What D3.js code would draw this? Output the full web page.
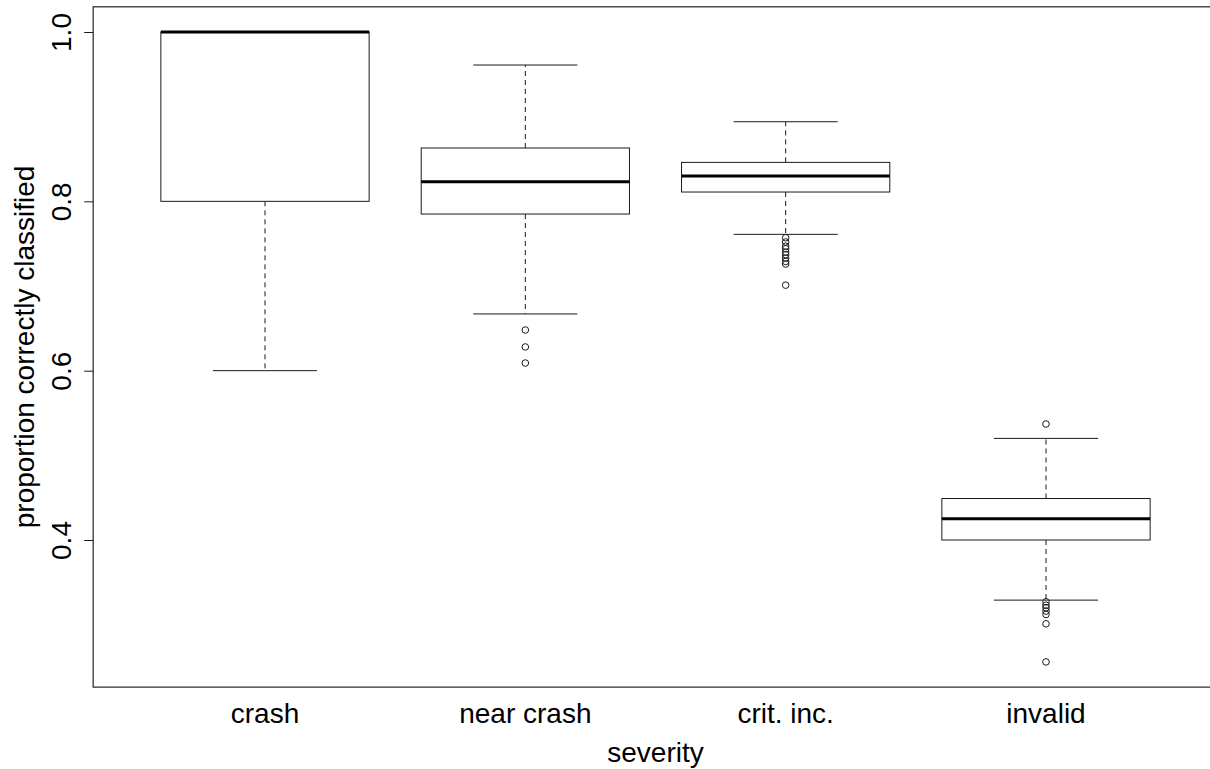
<!DOCTYPE html>
<html>
<head>
<meta charset="utf-8">
<script src="https://cdn.jsdelivr.net/npm/d3@7"></script>
<style>
  body { margin: 0; background: #fff; }
  svg { display: block; font-family: "Liberation Sans", Arial, sans-serif; }
</style>
</head>
<body>
<div id="chart"></div>
<script>
// box statistics
const categories = ['crash', 'near crash', 'crit. inc.', 'invalid'];
const whiskerLow = [0.600, 0.667, 0.761, 0.329];
const quart1     = [0.800, 0.785, 0.811, 0.400];
const medians    = [1.000, 0.823, 0.830, 0.425];
const quart3     = [1.000, 0.863, 0.846, 0.449];
const whiskerHigh = [1.000, 0.961, 0.894, 0.520];
// outliers for each category
const outliers = [
    [],
    [0.648, 0.628, 0.609],
    [0.757, 0.752, 0.747, 0.744, 0.740, 0.737, 0.733, 0.729, 0.726, 0.701],
    [0.537, 0.327, 0.323, 0.320, 0.316, 0.312, 0.301, 0.256]
];
const yTicks = [0.4, 0.6, 0.8, 1.0];

const width = 1210, height = 769;
const fontSize = 28;

let svg = d3.select('#chart').append('svg')
    .attr('width', width)
    .attr('height', height);

// x positions: category index 1..4
let x = d3.scaleLinear().domain([1, 4]).range([265, 1046]);
let y = d3.scaleLinear().domain([0.4, 1.0]).range([540, 32]);

// R style 4% padding around the data
let allVals = whiskerLow.concat(whiskerHigh, outliers.flat());
let yMin = d3.min(allVals), yMax = d3.max(allVals);
let yPad = (yMax - yMin) * 0.04;
let xLo = 0.5 - 0.16, xHi = categories.length + 0.5 + 0.16;

const boxHalf = 0.4 * (x(2) - x(1));
const capHalf = boxHalf / 2;
const lineCol = '#1a1a1a';

// y axis
let yAxis = d3.axisLeft(y)
    .tickValues(yTicks)
    .tickFormat(d3.format('.1f'))
    .tickSize(9)
    .tickPadding(0);

let yg = svg.append('g')
    .attr('transform', `translate(${x(xLo)},0)`)
    .call(yAxis);
yg.select('.domain').remove();
yg.selectAll('.tick line').attr('stroke', lineCol);
yg.selectAll('.tick text')
    .attr('font-size', fontSize)
    .attr('fill', '#000')
    .attr('text-anchor', 'middle')
    .attr('dy', 0)
    .attr('x', 0)
    .attr('transform', 'translate(-22,0) rotate(-90)');

// category labels (no tick marks)
svg.selectAll('.xlab')
    .data(categories)
    .enter().append('text')
    .attr('class', 'xlab')
    .attr('x', (d, i) => x(i + 1))
    .attr('y', 723)
    .attr('text-anchor', 'middle')
    .attr('font-size', fontSize)
    .text(d => d);

// axis titles
svg.append('text')
    .attr('x', x(2.5))
    .attr('y', 762)
    .attr('text-anchor', 'middle')
    .attr('font-size', fontSize)
    .text('severity');

svg.append('text')
    .attr('transform', `translate(34,${y(0.628)}) rotate(-90)`)
    .attr('text-anchor', 'middle')
    .attr('font-size', fontSize)
    .text('proportion correctly classified');

// one group per box
let box = svg.selectAll('.box')
    .data(categories)
    .enter().append('g')
    .attr('class', 'box');

// dashed whiskers
box.append('line')
    .attr('x1', (d, i) => x(i + 1)).attr('x2', (d, i) => x(i + 1))
    .attr('y1', (d, i) => y(quart3[i])).attr('y2', (d, i) => y(whiskerHigh[i]))
    .attr('stroke', lineCol).attr('stroke-dasharray', '5,4');
box.append('line')
    .attr('x1', (d, i) => x(i + 1)).attr('x2', (d, i) => x(i + 1))
    .attr('y1', (d, i) => y(quart1[i])).attr('y2', (d, i) => y(whiskerLow[i]))
    .attr('stroke', lineCol).attr('stroke-dasharray', '5,4');

// whisker caps
box.append('line')
    .attr('x1', (d, i) => x(i + 1) - capHalf).attr('x2', (d, i) => x(i + 1) + capHalf)
    .attr('y1', (d, i) => y(whiskerHigh[i])).attr('y2', (d, i) => y(whiskerHigh[i]))
    .attr('stroke', lineCol);
box.append('line')
    .attr('x1', (d, i) => x(i + 1) - capHalf).attr('x2', (d, i) => x(i + 1) + capHalf)
    .attr('y1', (d, i) => y(whiskerLow[i])).attr('y2', (d, i) => y(whiskerLow[i]))
    .attr('stroke', lineCol);

// the boxes
box.append('rect')
    .attr('x', (d, i) => x(i + 1) - boxHalf)
    .attr('width', boxHalf * 2)
    .attr('y', (d, i) => y(quart3[i]))
    .attr('height', (d, i) => y(quart1[i]) - y(quart3[i]))
    .attr('fill', 'white')
    .attr('stroke', lineCol);

// medians
box.append('line')
    .attr('x1', (d, i) => x(i + 1) - boxHalf).attr('x2', (d, i) => x(i + 1) + boxHalf)
    .attr('y1', (d, i) => y(medians[i])).attr('y2', (d, i) => y(medians[i]))
    .attr('stroke', '#000').attr('stroke-width', 3);

// outlier points
box.selectAll('.out')
    .data((d, i) => outliers[i].map(v => ({i: i, v: v})))
    .enter().append('circle')
    .attr('class', 'out')
    .attr('cx', d => x(d.i + 1))
    .attr('cy', d => y(d.v))
    .attr('r', 3.3)
    .attr('fill', 'none')
    .attr('stroke', lineCol);

// plot frame
svg.append('rect')
    .attr('x', x(xLo))
    .attr('y', y(yMax + yPad))
    .attr('width', x(xHi) - x(xLo))
    .attr('height', y(yMin - yPad) - y(yMax + yPad))
    .attr('fill', 'none')
    .attr('stroke', '#333')
    .attr('stroke-width', 1.3);
</script>
</body>
</html>
